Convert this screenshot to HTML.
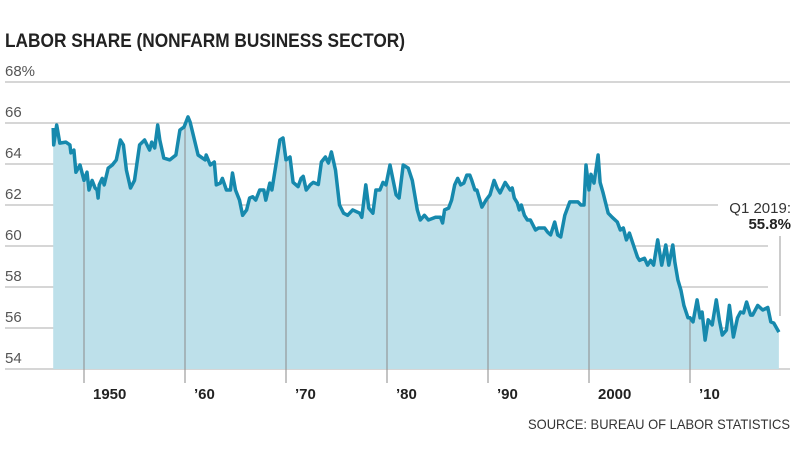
<!DOCTYPE html>
<html><head><meta charset="utf-8"><style>
body{margin:0;background:#fff}
svg{display:block;font-family:"Liberation Sans",sans-serif}
</style></head><body>
<svg width="800" height="450" id="chart">
<text x="5" y="47" font-size="19" font-weight="bold" fill="#222" textLength="400" lengthAdjust="spacingAndGlyphs">LABOR SHARE (NONFARM BUSINESS SECTOR)</text>
<g id="grid"></g>
<g id="plot"></g>
<text x="791" y="213" font-size="15" fill="#333" text-anchor="end">Q1 2019:</text>
<text x="791" y="229" font-size="15" font-weight="bold" fill="#222" text-anchor="end">55.8%</text>
<line x1="780" y1="236" x2="780" y2="316" stroke="#999" stroke-width="1"/>
<text x="790" y="429" font-size="14" fill="#333" text-anchor="end" textLength="262" lengthAdjust="spacingAndGlyphs">SOURCE: BUREAU OF LABOR STATISTICS</text>
</svg>
<script>
const years=[1946.95,1947.0,1947.3,1947.6,1948.2,1948.6,1948.7,1949.0,1949.2,1949.6,1950.0,1950.3,1950.5,1950.8,1951.1,1951.3,1951.4,1951.5,1951.8,1952.0,1952.4,1952.8,1953.2,1953.6,1953.9,1954.2,1954.6,1955.0,1955.5,1956.0,1956.5,1956.7,1957.0,1957.3,1957.5,1957.9,1958.5,1959.1,1959.5,1959.9,1960.3,1960.5,1961.3,1962.0,1962.1,1962.5,1962.9,1963.1,1963.5,1963.7,1964.1,1964.5,1964.7,1965.0,1965.4,1965.7,1966.1,1966.4,1966.7,1967.0,1967.4,1967.8,1968.0,1968.4,1968.6,1969.0,1969.4,1969.7,1970.0,1970.4,1970.7,1971.2,1971.5,1971.7,1972.0,1972.4,1972.7,1973.2,1973.5,1973.9,1974.2,1974.5,1974.9,1975.3,1975.7,1976.1,1976.6,1977.3,1977.5,1977.9,1978.2,1978.6,1978.9,1979.3,1979.6,1979.9,1980.3,1980.9,1981.2,1981.6,1982.1,1982.5,1983.0,1983.3,1983.7,1984.1,1984.8,1985.3,1985.5,1985.7,1986.1,1986.4,1986.7,1987.0,1987.3,1987.6,1987.9,1988.2,1988.4,1988.7,1988.9,1989.2,1989.4,1989.8,1990.2,1990.6,1990.9,1991.2,1991.7,1992.2,1992.4,1992.6,1992.9,1993.1,1993.3,1993.6,1993.9,1994.2,1994.7,1995.0,1995.6,1995.9,1996.2,1996.6,1996.9,1997.2,1997.6,1998.1,1998.6,1998.9,1999.2,1999.5,1999.7,2000.0,2000.2,2000.5,2000.9,2001.1,2001.4,2001.9,2002.3,2002.8,2003.1,2003.4,2003.7,2004.0,2004.4,2004.8,2005.0,2005.5,2005.8,2006.1,2006.4,2006.8,2007.2,2007.6,2007.9,2008.3,2008.5,2008.8,2009.1,2009.4,2009.8,2010.0,2010.3,2010.7,2011.0,2011.2,2011.5,2011.8,2012.2,2012.6,2012.9,2013.2,2013.6,2013.9,2014.3,2014.7,2015.0,2015.3,2015.6,2016.0,2016.2,2016.7,2017.2,2017.7,2018.0,2018.3,2018.8];
const shares=[65.76,64.93,65.9,65.02,65.07,64.93,64.54,64.68,63.6,63.95,63.2,63.6,62.73,63.2,62.83,62.73,62.34,62.98,63.3,62.98,63.8,63.95,64.2,65.17,64.93,63.7,62.83,63.2,64.93,65.17,64.68,65.07,64.78,65.9,65.17,64.29,64.2,64.44,65.66,65.8,66.3,66.05,64.44,64.2,64.44,63.95,64.1,62.98,63.07,63.3,62.73,62.73,63.56,62.73,62.24,61.5,61.76,62.34,62.4,62.24,62.73,62.73,62.24,63.07,62.73,63.95,65.17,65.27,64.2,64.34,63.1,62.9,63.3,63.4,62.73,62.98,63.1,63.0,64.1,64.34,64.05,64.59,63.7,62.0,61.6,61.5,61.76,61.6,61.4,62.98,61.85,61.6,62.73,62.73,63.1,62.98,63.95,62.5,62.34,63.95,63.8,63.2,61.76,61.27,61.5,61.27,61.4,61.4,61.12,61.76,61.85,62.24,62.98,63.3,62.98,63.07,63.46,63.46,63.2,62.73,62.73,62.24,61.9,62.24,62.5,63.2,62.83,62.59,63.1,62.73,62.83,62.34,62.1,61.76,62.0,61.5,61.27,61.27,60.78,60.88,60.88,60.68,60.54,61.17,60.54,60.44,61.5,62.15,62.15,62.15,62.0,62.0,63.95,62.73,63.5,63.07,64.44,63.1,62.59,61.6,61.4,61.17,60.78,60.88,60.3,60.63,60.05,59.46,59.3,59.4,59.07,59.3,59.07,60.3,59.07,60.05,59.07,60.05,59.2,58.34,57.85,57.1,56.5,56.5,56.3,57.37,56.5,56.78,55.41,56.4,56.15,57.37,56.4,55.66,55.9,57.1,55.56,56.5,56.78,56.73,57.27,56.63,56.63,57.1,56.88,57.0,56.3,56.24,55.8];
const yTicks=[54,56,58,60,62,64,66,68];
const yTickLabels=["54","56","58","60","62","64","66","68%"];
const xTicks=[1950,1960,1970,1980,1990,2000,2010];
const xTickLabels=["1950","’60","’70","’80","’90","2000","’10"];
const NS="http://www.w3.org/2000/svg";
const X=y=>84+(y-1950)*10.1;
const Y=v=>369-(v-54)*20.5;
const grid=document.getElementById('grid'),plot=document.getElementById('plot');
function mk(tag,attrs,parent){const e=document.createElementNS(NS,tag);for(const k in attrs)e.setAttribute(k,attrs[k]);parent.appendChild(e);return e;}
const gridEnd={54:790,56:762,58:768,60:768,62:718,64:790,66:790,68:790};
yTicks.forEach((t,i)=>{
 const l=mk('line',{x1:5,x2:gridEnd[t]||790,y1:Y(t),y2:Y(t),stroke:'#bdbdbd','stroke-width':1.3},grid);
 
 
 const tx=mk('text',{x:5,y:Y(t)-6,'font-size':15,fill:'#555'},grid);
 tx.textContent=yTickLabels[i];
 
 
});
let d='M'+X(years[0])+','+Y(54);
years.forEach((yr,i)=>{d+=' L'+X(yr).toFixed(1)+','+Y(shares[i]).toFixed(1);});
d+=' L'+X(years[years.length-1])+','+Y(54)+' Z';
const area=mk('path',{d:d,fill:'#bde0ea'},plot);


function interp(yr){for(let i=1;i<years.length;i++){if(years[i]>=yr){const f=(yr-years[i-1])/(years[i]-years[i-1]);return shares[i-1]+f*(shares[i]-shares[i-1]);}}return shares[shares.length-1];}
xTicks.forEach((t,i)=>{
 const l=mk('line',{x1:X(t),x2:X(t),y1:Y(interp(t))+2,y2:383,stroke:'#8a8a8a','stroke-width':1},plot);
 
 
 const tx=mk('text',{x:X(t)+9,y:399,'font-size':15,'font-weight':'bold',fill:'#222'},plot);
 tx.textContent=xTickLabels[i];
 
 
});
let ld='';
years.forEach((yr,i)=>{ld+=(i?' L':'M')+X(yr).toFixed(1)+','+Y(shares[i]).toFixed(1);});
const line=mk('path',{d:ld,fill:'none',stroke:'#1689ad','stroke-width':3.5,'stroke-linejoin':'round'},plot);


</script>
</body></html>
